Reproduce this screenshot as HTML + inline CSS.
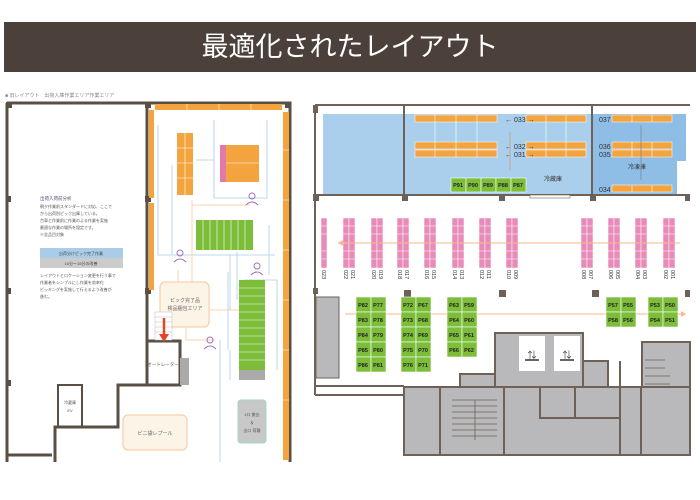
<!DOCTYPE html>
<html><head><meta charset="utf-8"><style>
html,body{margin:0;padding:0;background:#fff;width:700px;height:500px;overflow:hidden}
svg{display:block;font-family:"Liberation Sans","Noto Sans CJK JP",sans-serif}
</style></head><body>
<svg width="700" height="500" viewBox="0 0 700 500" xmlns="http://www.w3.org/2000/svg">
<rect x="4" y="22" width="692" height="50" fill="#4b413a"/>
<text x="350" y="56" font-size="27" fill="#fff" text-anchor="middle">最適化されたレイアウト</text>
<text x="5" y="97" font-size="5" fill="#888">■ 旧レイアウト　出荷入庫作業エリア作業エリア</text>

<!-- LEFT PLAN -->
<g fill="none" stroke="#5a4f45" stroke-width="3">
<path d="M7 103 H290 V462"/>
<path d="M7 103 V462"/>
<path d="M147 103 V385 H180 V341 H147"/>
<path d="M147 385 H118 V427 H55 V462"/>
<path d="M7 455 H52"/>
<path d="M58 427 V385 H82 V427" stroke-width="2"/>
</g>
<g fill="#5a4f45"><rect x="6" y="102" width="6" height="6"/><rect x="6" y="196" width="5" height="6"/><rect x="6" y="288" width="5" height="6"/><rect x="6" y="380" width="5" height="6"/><rect x="145" y="102" width="6" height="6"/><rect x="145" y="196" width="6" height="6"/><rect x="145" y="288" width="6" height="6"/><rect x="285" y="102" width="6" height="6"/><rect x="285" y="196" width="6" height="6"/><rect x="285" y="288" width="6" height="6"/><rect x="285" y="380" width="6" height="6"/></g>
<rect x="155" y="104" width="127" height="6" fill="#f3a43e"/>
<rect x="283" y="112" width="6" height="348" fill="#f3a43e"/>
<rect x="149" y="110" width="5" height="88" fill="#f3a43e"/>
<rect x="149" y="203" width="5" height="87" fill="#f3a43e"/>
<g stroke="#fff" stroke-width="0.6"><path d="M187 104v6M219 104v6M251 104v6M283 150h6M283 200h6M283 250h6M283 300h6M283 350h6M283 400h6"/></g>
<!-- flow lines -->
<g stroke="#a9cde8" stroke-width="0.8" fill="none">
<path d="M158 125 V255 H275"/><path d="M172 165 V255"/><path d="M214 120 V198 H267 V120"/><path d="M196 160 H214"/>
<path d="M230 255 V310"/><path d="M269 225 V275"/><path d="M228 272 V350"/><path d="M220 340 V462"/><path d="M244 280 H277 V370"/><path d="M237 252 V300"/><path d="M230 350 V380"/>
</g>
<g stroke="#f6c79a" stroke-width="0.8" fill="none"><path d="M178 270 V282"/><path d="M192 200 V282"/><path d="M192 205 H250"/><path d="M210 310 H240"/><path d="M186 328 V340 H215"/></g>
<rect x="177" y="133" width="16" height="62" fill="#f3a43e"/>
<g stroke="#fff" stroke-width="0.6"><path d="M185 133 V195 M177 148 H193 M177 163 H193 M177 178 H193"/></g>
<rect x="220" y="145" width="6" height="37" fill="#e27aa8"/>
<rect x="226" y="145" width="33" height="37" fill="#f3a43e"/>
<path d="M226 163 H259" stroke="#fff" stroke-width="0.6"/>
<rect x="196" y="220" width="57" height="30" fill="#7cbd3a"/>
<g stroke="#fff" stroke-width="0.6"><path d="M203 220V250M210 220V250M217 220V250M224 220V250M231 220V250M238 220V250M245 220V250"/></g>
<rect x="239" y="280" width="26" height="90" fill="#7cbd3a"/>
<g stroke="#fff" stroke-width="0.6"><path d="M239 288H265M239 296H265M239 304H265M239 312H265M239 320H265M239 328H265M239 336H265M239 344H265M239 352H265M239 360H265"/></g>
<rect x="239" y="370" width="26" height="10" fill="#aaa"/>
<rect x="160" y="282" width="49" height="45" rx="5" fill="#fdf4e8" stroke="#f6c79a"/>
<text x="185" y="302" font-size="5" fill="#666" text-anchor="middle">ピック完了品</text>
<text x="185" y="310" font-size="5" fill="#666" text-anchor="middle">検品梱包エリア</text>
<rect x="155" y="312" width="17" height="28" fill="#fff" stroke="#bbb" stroke-width="0.5"/>
<g stroke="#bbb" stroke-width="0.5"><path d="M155 317h17M155 322h17M155 327h17M155 332h17"/></g>
<path d="M164 318 V336" stroke="#e0462a" stroke-width="2.5"/><path d="M159 334 L164 342 L169 334Z" fill="#e0462a"/>
<text x="163" y="366" font-size="4.5" fill="#555" text-anchor="middle">オートレーター</text>
<rect x="180" y="358" width="9" height="27" fill="#aaa"/>
<text x="70" y="404" font-size="4" fill="#555" text-anchor="middle">冷蔵庫</text><text x="70" y="412" font-size="4" fill="#555" text-anchor="middle">EV</text>
<rect x="123" y="415" width="64" height="35" rx="5" fill="#fdf4e8" stroke="#f6c79a"/>
<text x="155" y="435" font-size="5" fill="#666" text-anchor="middle">ビニ袋レプール</text>
<rect x="238" y="400" width="28" height="43" rx="3" fill="#c8c8c8" stroke="#9fd8b8"/>
<text x="252" y="416" font-size="4" fill="#555" text-anchor="middle">4口 搬出</text><text x="252" y="424" font-size="4" fill="#555" text-anchor="middle">＆</text><text x="252" y="432" font-size="4" fill="#555" text-anchor="middle">出口 荷積</text>
<g fill="none" stroke="#a070b8" stroke-width="1"><circle cx="252" cy="196" r="3"/><path d="M246 205 Q252 199 258 205"/><circle cx="180" cy="253" r="3"/><path d="M174 262 Q180 256 186 262"/><circle cx="257" cy="266" r="3"/><path d="M251 275 Q257 269 263 275"/><circle cx="210" cy="340" r="3"/><path d="M204 349 Q210 343 216 349"/></g>
<text x="40" y="200" font-size="4.5" fill="#4a4a7a">出荷入荷前分析</text>
<g font-size="4" fill="#555"><text x="40" y="208">朝夕作業前スタンダードに対応、ここで</text><text x="40" y="215">から出荷別ピック出庫している。</text><text x="40" y="222">台車と作業前に作業のよる作業を実施</text><text x="40" y="229">最適な作業の場所を設定です。</text><text x="40" y="236">※全品目対象</text>
<text x="40" y="277">レイアウトとロケーション変更を行う事で</text><text x="40" y="284">作業者をシンプルにし作業を効率化</text><text x="40" y="291">ピッキングを実施して行えるよう改善が</text><text x="40" y="298">進む。</text></g>
<rect x="40" y="248" width="83" height="10" fill="#a9cde8"/><rect x="40" y="258" width="83" height="10" fill="#ccc"/>
<text x="81" y="255" font-size="4" fill="#444" text-anchor="middle">出荷分けピック完了作業</text><text x="81" y="265" font-size="4" fill="#444" text-anchor="middle">10分～15分の改善</text>

<!-- RIGHT PLAN -->
<rect x="323" y="114" width="80" height="81" fill="#a9cfec"/>
<rect x="405" y="114" width="186" height="81" fill="#a9cfec"/>
<rect x="593" y="114" width="84" height="81" fill="#8ebde6"/>
<rect x="677" y="114" width="9" height="47" fill="#8ebde6"/>
<g fill="none" stroke="#6e6258" stroke-width="2"><path d="M315 105 H690 M315 105 V395 M315 195 H690 M404 105 V195 M592 105 V195 M315 395 H405"/></g>
<g fill="#6e6258"><rect x="313" y="194" width="6" height="7"/><rect x="402" y="194" width="6" height="7"/><rect x="499" y="194" width="6" height="7"/><rect x="590" y="194" width="6" height="7"/><rect x="685" y="194" width="5" height="7"/><rect x="313" y="288" width="5" height="6"/><rect x="404" y="290" width="7" height="7"/><rect x="499" y="290" width="7" height="7"/><rect x="592" y="290" width="7" height="7"/><rect x="685" y="290" width="5" height="7"/><rect x="313" y="105" width="5" height="8"/></g>
<g fill="#f3a43e" stroke="#fff" stroke-width="0.5">
<rect x="415" y="115" width="82" height="7"/><rect x="526" y="115" width="60" height="7"/>
<rect x="415" y="142" width="82" height="7"/><rect x="526" y="142" width="60" height="7"/>
<rect x="415" y="150" width="82" height="7"/><rect x="526" y="150" width="60" height="7"/>
<rect x="612" y="115" width="60" height="7"/><rect x="612" y="142" width="60" height="7"/><rect x="612" y="150" width="60" height="7"/><rect x="612" y="185" width="60" height="7"/>
</g>
<g stroke="#fff" stroke-width="0.6"><path d="M435 115v42M456 115v42M477 115v42M546 115v42M566 115v42M632 115v7M652 115v7M632 142v15M652 142v15M632 185v7M652 185v7"/></g>
<g font-size="7" fill="#333"><text x="505" y="122">← 033 →</text><text x="505" y="149">← 032 →</text><text x="505" y="157">← 031 →</text>
<text x="599" y="122">037</text><text x="599" y="149">036</text><text x="599" y="157">035</text><text x="599" y="192">034</text>
<text x="544" y="181" font-size="6">冷蔵庫</text><text x="628" y="169" font-size="6">冷凍庫</text></g>
<path d="M510 132 V170" stroke="#d09a80" stroke-width="0.8"/><path d="M641 125 V180" stroke="#888" stroke-width="0.8"/>
<g fill="#7cbd3a" stroke="#fff" stroke-width="0.6"><rect x="451" y="178" width="15" height="14"/><rect x="466" y="178" width="15" height="14"/><rect x="481" y="178" width="15" height="14"/><rect x="496" y="178" width="15" height="14"/><rect x="511" y="178" width="15" height="14"/></g>
<g font-size="5.5" fill="#222" font-weight="bold" text-anchor="middle"><text x="458" y="187">P91</text><text x="473" y="187">P90</text><text x="488" y="187">P89</text><text x="503" y="187">P88</text><text x="518" y="187">P87</text></g>
<rect x="530" y="195" width="40" height="3" fill="#fff" stroke="#6e6258" stroke-width="0.6"/>
<!-- pink racks -->
<g fill="#e98bb8" stroke="#fff" stroke-width="0.5">
<rect x="321" y="218" width="6" height="50"/>
<rect x="343" y="218" width="6" height="50"/><rect x="349" y="218" width="6" height="50"/>
<rect x="371" y="218" width="6" height="50"/><rect x="377" y="218" width="6" height="50"/>
<rect x="397" y="218" width="6" height="50"/><rect x="403" y="218" width="6" height="50"/>
<rect x="424" y="218" width="6" height="50"/><rect x="430" y="218" width="6" height="50"/>
<rect x="452" y="218" width="6" height="50"/><rect x="458" y="218" width="6" height="50"/>
<rect x="479" y="218" width="6" height="50"/><rect x="485" y="218" width="6" height="50"/>
<rect x="506" y="218" width="6" height="50"/><rect x="512" y="218" width="6" height="50"/>
<rect x="581" y="218" width="6" height="50"/><rect x="587" y="218" width="6" height="50"/>
<rect x="608" y="218" width="6" height="50"/><rect x="614" y="218" width="6" height="50"/>
<rect x="635" y="218" width="6" height="50"/><rect x="641" y="218" width="6" height="50"/>
<rect x="663" y="218" width="6" height="50"/><rect x="669" y="218" width="6" height="50"/>
</g>
<g stroke="#fff" stroke-width="0.5"><path d="M320 226H676M320 234H676M320 251H676M320 259H676"/></g>
<path d="M338 243 H680" stroke="#f6b98a" stroke-width="1"/><path d="M338 243 l5 -3 v6z" fill="#f6b98a"/>
<g font-size="5.5" fill="#333">
<text transform="translate(322,270) rotate(90)">023</text>
<text transform="translate(344,270) rotate(90)">022</text><text transform="translate(351,270) rotate(90)">021</text>
<text transform="translate(372,270) rotate(90)">020</text><text transform="translate(379,270) rotate(90)">019</text>
<text transform="translate(398,270) rotate(90)">018</text><text transform="translate(405,270) rotate(90)">017</text>
<text transform="translate(425,270) rotate(90)">016</text><text transform="translate(432,270) rotate(90)">015</text>
<text transform="translate(453,270) rotate(90)">014</text><text transform="translate(460,270) rotate(90)">013</text>
<text transform="translate(480,270) rotate(90)">012</text><text transform="translate(487,270) rotate(90)">011</text>
<text transform="translate(507,270) rotate(90)">010</text><text transform="translate(514,270) rotate(90)">009</text>
<text transform="translate(582,270) rotate(90)">008</text><text transform="translate(589,270) rotate(90)">007</text>
<text transform="translate(609,270) rotate(90)">006</text><text transform="translate(616,270) rotate(90)">005</text>
<text transform="translate(636,270) rotate(90)">004</text><text transform="translate(643,270) rotate(90)">003</text>
<text transform="translate(664,270) rotate(90)">002</text><text transform="translate(671,270) rotate(90)">001</text>
</g>
<!-- lower -->
<rect x="316" y="297" width="23" height="81" fill="#b9b9bb" stroke="#6e6258" stroke-width="1"/>
<path d="M345 314 H682" stroke="#f6b98a" stroke-width="1"/><path d="M686 314 l-5 -3 v6z" fill="#f6b98a"/>
<g fill="#7cbd3a" stroke="#fff" stroke-width="0.6">
<rect x="356" y="297" width="15" height="15"/><rect x="371" y="297" width="15" height="15"/><rect x="356" y="312" width="15" height="15"/><rect x="371" y="312" width="15" height="15"/><rect x="356" y="327" width="15" height="15"/><rect x="371" y="327" width="15" height="15"/><rect x="356" y="342" width="15" height="15"/><rect x="371" y="342" width="15" height="15"/><rect x="356" y="357" width="15" height="15"/><rect x="371" y="357" width="15" height="15"/>
<rect x="401" y="297" width="15" height="15"/><rect x="416" y="297" width="15" height="15"/><rect x="401" y="312" width="15" height="15"/><rect x="416" y="312" width="15" height="15"/><rect x="401" y="327" width="15" height="15"/><rect x="416" y="327" width="15" height="15"/><rect x="401" y="342" width="15" height="15"/><rect x="416" y="342" width="15" height="15"/><rect x="401" y="357" width="15" height="15"/><rect x="416" y="357" width="15" height="15"/>
<rect x="447" y="297" width="15" height="15"/><rect x="462" y="297" width="15" height="15"/><rect x="447" y="312" width="15" height="15"/><rect x="462" y="312" width="15" height="15"/><rect x="447" y="327" width="15" height="15"/><rect x="462" y="327" width="15" height="15"/><rect x="447" y="342" width="15" height="15"/><rect x="462" y="342" width="15" height="15"/>
<rect x="606" y="297" width="15" height="15"/><rect x="621" y="297" width="15" height="15"/><rect x="606" y="312" width="15" height="15"/><rect x="621" y="312" width="15" height="15"/>
<rect x="648" y="297" width="15" height="15"/><rect x="663" y="297" width="15" height="15"/><rect x="648" y="312" width="15" height="15"/><rect x="663" y="312" width="15" height="15"/>
</g>
<g font-size="5.5" fill="#222" font-weight="bold" text-anchor="middle">
<text x="363" y="307">P82</text><text x="378" y="307">P77</text><text x="363" y="322">P83</text><text x="378" y="322">P78</text><text x="363" y="337">P84</text><text x="378" y="337">P79</text><text x="363" y="352">P85</text><text x="378" y="352">P80</text><text x="363" y="367">P86</text><text x="378" y="367">P81</text>
<text x="408" y="307">P72</text><text x="423" y="307">P67</text><text x="408" y="322">P73</text><text x="423" y="322">P68</text><text x="408" y="337">P74</text><text x="423" y="337">P69</text><text x="408" y="352">P75</text><text x="423" y="352">P70</text><text x="408" y="367">P76</text><text x="423" y="367">P71</text>
<text x="454" y="307">P63</text><text x="469" y="307">P59</text><text x="454" y="322">P64</text><text x="469" y="322">P60</text><text x="454" y="337">P65</text><text x="469" y="337">P61</text><text x="454" y="352">P66</text><text x="469" y="352">P62</text>
<text x="613" y="307">P57</text><text x="628" y="307">P55</text><text x="613" y="322">P58</text><text x="628" y="322">P56</text>
<text x="655" y="307">P53</text><text x="670" y="307">P50</text><text x="655" y="322">P54</text><text x="670" y="322">P51</text>
</g>
<!-- gray building core -->
<g fill="#b9b9bb" stroke="#6e6258" stroke-width="2">
<rect x="404" y="387" width="286" height="68"/>
<rect x="460" y="374" width="35" height="13"/>
<rect x="495" y="333" width="88" height="54"/>
<rect x="583" y="361" width="25" height="26"/>
<rect x="642" y="342" width="48" height="45"/>
<path d="M504 387 V455 M440 387 V455 M620 361 V455 M641 387 V455 M540 387 V418 H620 M575 387 V418" fill="none"/>
</g>
<path d="M315 386 H404" stroke="#6e6258" stroke-width="2"/>
<g fill="#fff"><rect x="519" y="336" width="26" height="35"/><rect x="554" y="336" width="26" height="35"/></g>
<g fill="#333" font-size="9" text-anchor="middle"><text x="532" y="358">⇅</text><text x="567" y="358">⇅</text></g>
<g stroke="#333" stroke-width="1.5"><path d="M525 360 h14 M560 360 h14"/></g>
<g stroke="#6e6258" stroke-width="0.8" fill="none"><path d="M452 400 H497 M452 406 H497 M452 412 H497 M452 418 H497 M452 424 H497 M452 430 H497 M452 436 H497 M475 400 V440"/><path d="M645 360 H665 M645 368 H665 M645 376 H670 M645 384 H670"/></g>
</svg>
</body></html>
